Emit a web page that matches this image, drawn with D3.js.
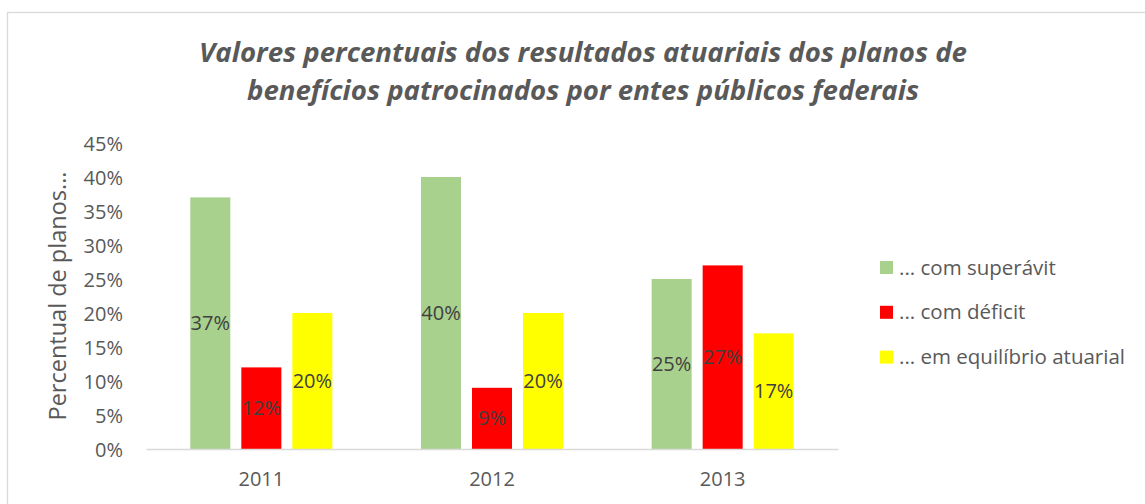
<!DOCTYPE html>
<html><head><meta charset="utf-8">
<script src="https://cdn.jsdelivr.net/npm/d3@7"></script>
<style>body{margin:0;background:#fff}svg{display:block}text{font-family:"Open Sans",sans-serif}</style>
</head><body>
<svg id="c" width="1145" height="504"></svg>
<script>
const categories = ["2011", "2012", "2013"];
const seriesNames = ["... com superávit", "... com déficit", "... em equilíbrio atuarial"];
const superavit = [0.37, 0.40, 0.25];
const deficit = [0.12, 0.09, 0.27];
const equilibrio = [0.20, 0.20, 0.17];
const seriesColors = ["#a9d18e", "#ff0000", "#ffff00"];
const yTicks = [0, 0.05, 0.10, 0.15, 0.20, 0.25, 0.30, 0.35, 0.40, 0.45];
const titleLines = ["Valores percentuais dos resultados atuariais dos planos de", "benefícios patrocinados por entes públicos federais"];
const yTitle = "Percentual de planos...";

const seriesValues = [superavit, deficit, equilibrio];
const svg = d3.select("#c");

svg.append("rect").attr("x", 7.5).attr("y", 12.5).attr("width", 1200).attr("height", 600)
  .attr("fill", "#fff").attr("stroke", "#d9d9d9").attr("stroke-width", 1.3);

const x = d3.scaleBand().domain(categories).range([146, 838]).paddingInner(0).paddingOuter(0);
const groupPad = 44.3;
const xs = d3.scaleBand().domain(d3.range(3)).range([0, x.bandwidth() - 2 * groupPad]).paddingInner(11 / 51).paddingOuter(0);
const y = d3.scaleLinear().domain([0, 0.45]).range([449, 143]);

// title
svg.append("g").selectAll("text").data(titleLines).join("text")
  .attr("x", 583).attr("y", (d, i) => 62 + i * 38)
  .attr("text-anchor", "middle").attr("fill", "#595959")
  .attr("font-size", 27.6).attr("font-weight", "bold").attr("font-style", "italic")
  .text(d => d);

// y axis
const yAxis = d3.axisLeft(y).tickValues(yTicks).tickFormat(d => Math.round(d * 100) + "%").tickSize(0).tickPadding(0);
const gy = svg.append("g").attr("transform", "translate(123,0)").call(yAxis);
gy.select(".domain").remove();
gy.selectAll("text").attr("font-family", "Open Sans").attr("font-size", 20).attr("fill", "#595959").attr("dy", "0.35em");

// y title
svg.append("text").attr("transform", "translate(66,296) rotate(-90)")
  .attr("text-anchor", "middle").attr("fill", "#595959").attr("font-size", 23.5).text(yTitle);

// bars
const groups = svg.append("g").selectAll("g").data(categories).join("g")
  .attr("transform", d => `translate(${x(d) + groupPad},0)`);
groups.each(function (cat, ci) {
  const g = d3.select(this);
  const vals = seriesValues.map((s, si) => ({ si, v: s[ci] }));
  g.selectAll("rect").data(vals).join("rect")
    .attr("x", d => xs(d.si)).attr("width", xs.bandwidth())
    .attr("y", d => y(d.v)).attr("height", d => y(0) - y(d.v))
    .attr("fill", d => seriesColors[d.si]);
  g.selectAll("text").data(vals).join("text")
    .attr("x", d => xs(d.si) + xs.bandwidth() / 2)
    .attr("y", d => (y(d.v) + y(0)) / 2).attr("dy", "0.35em")
    .attr("text-anchor", "middle").attr("fill", "#404040").attr("font-size", 20)
    .text(d => Math.round(d.v * 100) + "%");
});

// x axis
const xAxis = d3.axisBottom(x).tickSize(0).tickPadding(0);
const gx = svg.append("g").attr("transform", "translate(0,449)").call(xAxis);
gx.select(".domain").attr("stroke", "#d9d9d9").attr("stroke-width", 1.5);
gx.selectAll("text").attr("font-family", "Open Sans").attr("font-size", 20).attr("fill", "#595959").attr("y", 30).attr("dy", "0.35em");

// legend
const leg = svg.append("g").selectAll("g").data(seriesNames).join("g")
  .attr("transform", (d, i) => `translate(880,${267.5 + i * 44.8})`);
leg.append("rect").attr("x", 0).attr("y", -6.5).attr("width", 13).attr("height", 13).attr("fill", (d, i) => seriesColors[i]);
leg.append("text").attr("x", 19).attr("dy", "0.35em").attr("fill", "#595959").attr("font-size", 20.5).text(d => d);
</script>
</body></html>
